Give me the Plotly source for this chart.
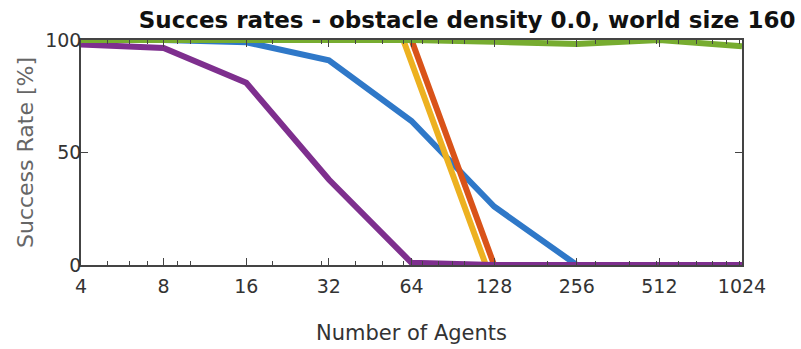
import math
import plotly.graph_objects as go

agents = [4, 8, 16, 32, 64, 128, 256, 512, 1024]
tick_labels = ["4", "8", "16", "32", "64", "128", "256", "512", "1024"]

blue_vals = [100, 100, 99, 91, 64, 26, 0, 0, 0]
red_vals = [100, 100, 100, 100, 100, 0, 0, 0, 0]
yellow_vals = [100, 100, 100, 100, 100, 0, 0, 0, 0]
purple_vals = [98, 96.5, 81, 38, 1, 0, 0, 0, 0]
green_vals = [100, 100, 100, 100, 100, 99.2, 98.2, 100, 97.2]

C_BLUE = "#2f78c8"
C_RED = "#d95319"
C_YEL = "#edb120"
C_PUR = "#7e2f8e"
C_GRN = "#77ac30"

LW = 6
fig = go.Figure()
fig.add_trace(go.Scatter(x=agents, y=blue_vals, mode="lines", line=dict(color=C_BLUE, width=LW)))
fig.add_trace(go.Scatter(x=agents, y=red_vals, mode="lines", line=dict(color=C_RED, width=LW)))
fig.add_trace(go.Scatter(x=agents, y=yellow_vals, mode="lines", line=dict(color=C_YEL, width=LW), xaxis="x2"))
fig.add_trace(go.Scatter(x=agents, y=purple_vals, mode="lines", line=dict(color=C_PUR, width=LW), xaxis="x3"))
fig.add_trace(go.Scatter(x=agents, y=green_vals, mode="lines", line=dict(color=C_GRN, width=LW), xaxis="x3",
                         cliponaxis=False))

lo, hi = math.log10(4), math.log10(1024)
shift = 0.03
axis_col = "#444444"
tickfont = dict(family="DejaVu Sans, Verdana, sans-serif", size=19, color="#333333")

fig.update_layout(
    width=801, height=349,
    margin=dict(l=81, r=59, t=40, b=84),
    paper_bgcolor="white", plot_bgcolor="white",
    showlegend=False,
    title=dict(text="<b>Succes rates - obstacle density 0.0, world size 160</b>",
               font=dict(family="DejaVu Sans, Verdana, sans-serif", size=23, color="#111111"),
               x=0.993, xanchor="right", xref="container",
               y=0.943, yanchor="middle", yref="container"),
    xaxis=dict(type="log", range=[lo, hi], tickvals=agents, ticktext=tick_labels,
               showline=True, linecolor=axis_col, linewidth=1.5, mirror="ticks",
               ticks="inside", ticklen=7, tickcolor=axis_col, tickwidth=1.2,
               minor=dict(ticks="inside", ticklen=4, dtick="D1", tickcolor=axis_col, tickwidth=1),
               showgrid=False, zeroline=False, tickfont=tickfont, automargin=False,
               ticklabelstandoff=3,
               title=dict(text="Number of Agents", standoff=30,
                          font=dict(family="DejaVu Sans, Verdana, sans-serif", size=21, color="#333333"))),
    xaxis2=dict(type="log", range=[lo + shift, hi + shift], overlaying="x", visible=False,
                showgrid=False, zeroline=False),
    xaxis3=dict(type="log", range=[lo, hi], overlaying="x", visible=False,
                showgrid=False, zeroline=False),
    yaxis=dict(range=[0, 100], tickvals=[0, 50, 100],
               showline=True, linecolor=axis_col, linewidth=1.5, mirror="ticks",
               ticks="inside", ticklen=7, tickcolor=axis_col, tickwidth=1.2,
               showgrid=False, zeroline=False, tickfont=tickfont, ticklabelstandoff=-6,
               automargin=False,
               title=dict(text="Success Rate [%]", standoff=5,
                          font=dict(family="DejaVu Sans, Verdana, sans-serif", size=22, color="#666666"))),
)

fig.write_html("out.html", config={"displayModeBar": False},
               post_script="document.body.style.margin='0';")
